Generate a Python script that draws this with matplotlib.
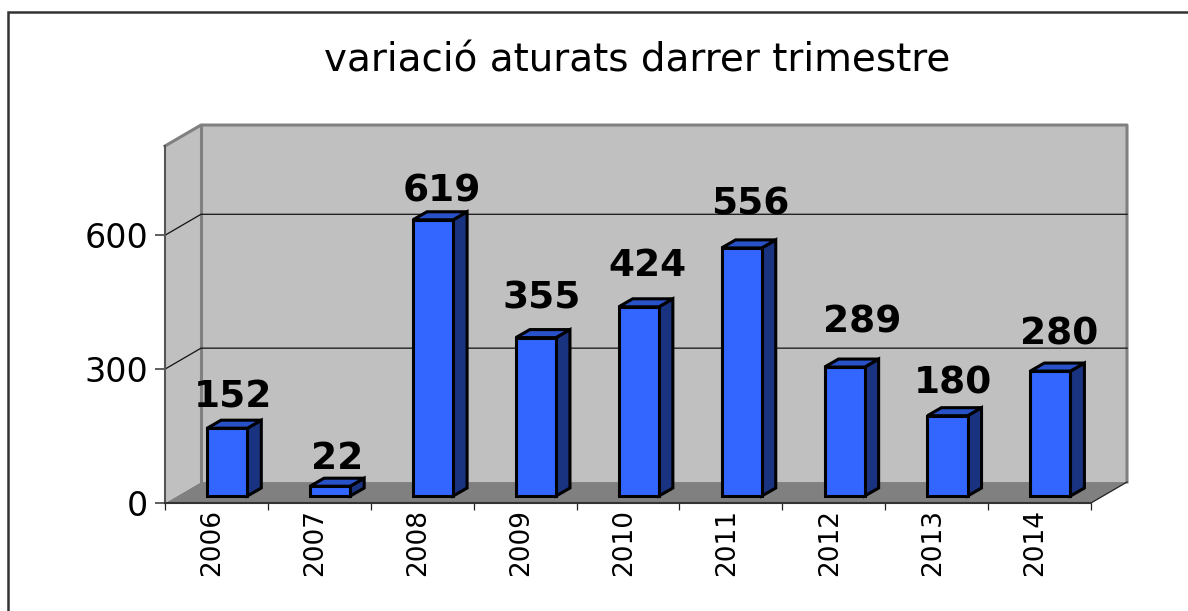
#!/usr/bin/env python3
"""Pseudo-3D column chart: variació aturats darrer trimestre."""
import matplotlib
matplotlib.use("Agg")
import matplotlib.pyplot as plt
from matplotlib.patches import Rectangle
from matplotlib.transforms import ScaledTranslation

YEARS = ["2006", "2007", "2008", "2009", "2010", "2011", "2012", "2013", "2014"]
VALUES = [152, 22, 619, 355, 424, 556, 289, 180, 280]
Y_TICKS = [0, 300, 600]
GRID_VALUES = [300, 600]
TITLE = "variació aturats darrer trimestre"

# label placement above each bar, in pixels (uneven in the original)
LABEL_DX = [-1, 0, 2, -1, 2, 2, 11, -2, 2]
LABEL_DY = [23, 19, 20, 31, 33, 35, 37, 24, 29]

Y_MAX = 800
# depth of the box and of the columns, in data units
WALL_DX, WALL_DY = 0.35, 47
BAR_SHIFT_X, BAR_SHIFT_Y = 0.105, 15.6
BAR_DX, BAR_DY = 0.136, 18
BAR_W = 0.39


def poly(ax, xs, ys, color, z, edge="none", lw=0):
    ax.fill(xs, ys, facecolor=color, edgecolor=edge, linewidth=lw, zorder=z,
            clip_on=False, joinstyle="miter")


def main():
    fig = plt.figure(figsize=(11.88, 6.11), dpi=100)
    W, H = 1188, 611
    ax = fig.add_axes([165 / W, 1 - 503 / H, (1091 - 165) / W, 357 / H])
    ax.set_xlim(-0.5, 8.5)
    ax.set_ylim(0, Y_MAX)
    ax.patch.set_visible(False)
    for name in ["top", "right"]:
        ax.spines[name].set_visible(False)
    ax.spines["left"].set_color("#555555")
    ax.spines["left"].set_linewidth(1.5)
    ax.spines["bottom"].set_color("#333333")
    ax.spines["bottom"].set_linewidth(1.5)

    # outer frame, only top and left fall inside the picture
    fig.add_artist(Rectangle((8 / W, -0.1), 1.2, 1.1 - 12 / H,
                             transform=fig.transFigure, fill=False,
                             edgecolor="#333333", linewidth=1.8))

    x0, x1 = -0.5, 8.5
    # walls and floor
    poly(ax, [x0, x1, x1 + WALL_DX, x0 + WALL_DX], [0, 0, WALL_DY, WALL_DY], "#808080", 1)
    poly(ax, [x0, x0 + WALL_DX, x0 + WALL_DX, x0],
         [0, WALL_DY, Y_MAX + WALL_DY, Y_MAX], "#c0c0c0", 1)
    poly(ax, [x0 + WALL_DX, x1 + WALL_DX, x1 + WALL_DX, x0 + WALL_DX],
         [WALL_DY, WALL_DY, Y_MAX + WALL_DY, Y_MAX + WALL_DY], "#c0c0c0", 1)

    # wall outlines
    wall_kw = dict(color="#808080", linewidth=2.2, zorder=2, clip_on=False,
                   solid_capstyle="projecting")
    ax.plot([x0 + WALL_DX, x0 + WALL_DX], [WALL_DY, Y_MAX + WALL_DY], **wall_kw)
    ax.plot([x0, x0 + WALL_DX, x1 + WALL_DX, x1 + WALL_DX],
            [Y_MAX, Y_MAX + WALL_DY, Y_MAX + WALL_DY, WALL_DY], **wall_kw)
    ax.plot([x1, x1 + WALL_DX], [0, WALL_DY], color="#222222", linewidth=0.9,
            zorder=2, clip_on=False)

    # gridlines on back and side wall
    for g in GRID_VALUES:
        ax.plot([x0, x0 + WALL_DX, x1 + WALL_DX], [g, g + WALL_DY, g + WALL_DY],
                color="#111111", linewidth=0.9, zorder=2, clip_on=False)

    # columns
    for i, v in enumerate(VALUES):
        left = i - BAR_W / 2 + BAR_SHIFT_X
        right = left + BAR_W
        base = BAR_SHIFT_Y
        top = base + v
        kw = dict(edge="black", lw=2.2)
        poly(ax, [right, right + BAR_DX, right + BAR_DX, right],
             [base, base + BAR_DY, top + BAR_DY, top], "#1a3380", 5, **kw)
        poly(ax, [left, right, right + BAR_DX, left + BAR_DX],
             [top, top, top + BAR_DY, top + BAR_DY], "#2a52c8", 5, **kw)
        poly(ax, [left, right, right, left], [base, base, top, top], "#3366ff", 6, **kw)
        ax.annotate(str(v), xy=(i + BAR_SHIFT_X + BAR_DX / 2, top + BAR_DY),
                    xytext=(LABEL_DX[i] * 0.72, LABEL_DY[i] * 0.72),
                    textcoords="offset points", ha="center", va="center",
                    fontsize=27, fontweight="bold", color="black", zorder=8,
                    annotation_clip=False)

    ax.set_yticks(Y_TICKS)
    ax.tick_params(axis="y", length=7, width=1.2, color="#444444", labelsize=24, pad=5)

    # ticks between categories, labels at the centres
    ax.set_xticks([i - 0.5 for i in range(len(YEARS) + 1)])
    ax.set_xticklabels([])
    ax.set_xticks(range(len(YEARS)), minor=True)
    ax.set_xticklabels(YEARS, minor=True, rotation=90, fontsize=19)
    ax.tick_params(axis="x", which="major", length=5, width=0.9, color="#222222")
    ax.tick_params(axis="x", which="minor", length=0, pad=4)
    shift = ScaledTranslation(-4 / 100, 0, fig.dpi_scale_trans)
    for lab in ax.get_xticklabels(minor=True):
        lab.set_transform(lab.get_transform() + shift)

    fig.text(637 / W, 1 - 60 / H, TITLE, ha="center", va="center", fontsize=28, color="black")

    fig.savefig("out.png", dpi=100)
    plt.close(fig)


if __name__ == "__main__":
    main()
